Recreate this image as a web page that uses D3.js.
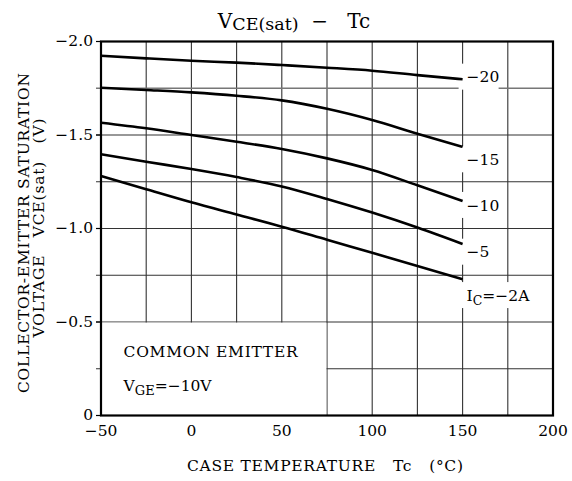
<!DOCTYPE html>
<html>
<head>
<meta charset="utf-8">
<script src="https://cdn.jsdelivr.net/npm/d3@7"></script>
<style>
  body { margin: 0; background: #fff; }
  text { font-family: "DejaVu Serif", serif; fill: #000; white-space: pre; }
</style>
</head>
<body>
<div id="my_dataviz"></div>
<script>
// case temperature (°C) where the curves were read
var temps = [-50, -25, 0, 25, 50, 75, 100, 125, 150];

// VCE(sat) in volts for each collector current
var ic20 = [-1.924, -1.910, -1.897, -1.887, -1.874, -1.860, -1.844, -1.820, -1.798];
var ic15 = [-1.753, -1.741, -1.728, -1.710, -1.685, -1.640, -1.580, -1.507, -1.437];
var ic10 = [-1.566, -1.536, -1.500, -1.464, -1.425, -1.375, -1.313, -1.231, -1.147];
var ic5  = [-1.397, -1.357, -1.318, -1.275, -1.225, -1.158, -1.085, -1.005, -0.917];
var ic2  = [-1.281, -1.210, -1.140, -1.075, -1.010, -0.940, -0.870, -0.800, -0.728];

var curveNames = ["-20", "-15", "-10", "-5", "-2"];
var curveLabels = ["\u221220", "\u221215", "\u221210", "\u22125", "IC"];

var xTicks = [-50, 0, 50, 100, 150, 200];
var yTicks = [0, -0.5, -1.0, -1.5, -2.0];
var yTickLabels = ["0", "\u22120.5", "\u22121.0", "\u22121.5", "\u22122.0"];

var margin = {top: 41.5, right: 19, bottom: 65.5, left: 101},
    width = 572 - margin.left - margin.right,
    height = 481 - margin.top - margin.bottom;

var svg = d3.select("#my_dataviz")
    .append("svg")
    .attr("width", 572)
    .attr("height", 481);

var g = svg.append("g")
    .attr("transform", "translate(" + margin.left + "," + margin.top + ")");

var x = d3.scaleLinear().domain([-50, 200]).range([0, width]);
var y = d3.scaleLinear().domain([0, -2]).range([height, 0]);

// grid, every 25 degC and every 0.25 V
var xGrid = d3.range(-25, 200, 25);
var yGrid = d3.range(-0.25, -2, -0.25);

g.selectAll("vgrid")
    .data(xGrid)
    .enter()
    .append("line")
    .attr("x1", function(d) { return x(d) })
    .attr("x2", function(d) { return x(d) })
    .attr("y1", 0)
    .attr("y2", height)
    .attr("stroke", "#333")
    .attr("stroke-width", 1.1);

g.selectAll("hgrid")
    .data(yGrid)
    .enter()
    .append("line")
    .attr("x1", -5)
    .attr("x2", width)
    .attr("y1", function(d) { return y(d) })
    .attr("y2", function(d) { return y(d) })
    .attr("stroke", function(d) { return d == -1.75 ? "#777" : "#333" })
    .attr("stroke-width", function(d) { return d == -1.75 ? 1.6 : 1.1 });

// outer ticks on the left
g.selectAll("yticks")
    .data(yTicks)
    .enter()
    .append("line")
    .attr("x1", -5)
    .attr("x2", 0)
    .attr("y1", function(d) { return y(d) })
    .attr("y2", function(d) { return y(d) })
    .attr("stroke", "#000")
    .attr("stroke-width", 1.2);

// blank area for the note box
g.append("rect")
    .attr("x", x(-50))
    .attr("y", y(-0.5) + 0.6)
    .attr("width", x(75) - x(-50) - 0.6)
    .attr("height", y(0) - y(-0.5))
    .attr("fill", "#fff");

// frame
g.append("rect")
    .attr("width", width)
    .attr("height", height)
    .attr("fill", "none")
    .attr("stroke", "#000")
    .attr("stroke-width", 2.2);

// tick labels
g.selectAll("xlab")
    .data(xTicks)
    .enter()
    .append("text")
    .attr("x", function(d) { return x(d) })
    .attr("y", height + 20.5)
    .attr("text-anchor", "middle")
    .style("font-size", "15.5px")
    .text(function(d) { return d < 0 ? "\u2212" + Math.abs(d) : d });

g.selectAll("ylab")
    .data(yTicks)
    .enter()
    .append("text")
    .attr("x", -8)
    .attr("y", function(d) { return y(d) })
    .attr("dy", "0.3em")
    .attr("text-anchor", "end")
    .style("font-size", "15.5px")
    .text(function(d, i) { return yTickLabels[i] });

// curve labels, white boxes break the grid behind them
var labelV = [-1.812, -1.37, -1.126, -0.876, -0.644];
var labelW = [40, 36, 36, 26, 84];

var labs = g.selectAll("clab")
    .data(curveNames)
    .enter()
    .append("g");

labs.append("rect")
    .attr("x", x(150) - 4)
    .attr("y", function(d, i) { return y(labelV[i]) - 13 })
    .attr("width", function(d, i) { return labelW[i] })
    .attr("height", 26)
    .attr("fill", "#fff");

var ltext = labs.append("text")
    .attr("x", x(150) + 4)
    .attr("y", function(d, i) { return y(labelV[i]) })
    .attr("dy", "0.36em")
    .style("font-size", "15.5px");

ltext.filter(function(d) { return d != "-2" })
    .text(function(d) { return curveLabels[curveNames.indexOf(d)] });

var icText = ltext.filter(function(d) { return d == "-2" });
icText.append("tspan").text("I");
icText.append("tspan").attr("dy", 4).style("font-size", "12.5px").text("C");
icText.append("tspan").attr("dy", -4).text("=\u22122A");

// curves
var series = [ic20, ic15, ic10, ic5, ic2];
var line = d3.line()
    .x(function(d, i) { return x(temps[i]) })
    .y(function(d) { return y(d) })
    .curve(d3.curveMonotoneX);

g.selectAll("curves")
    .data(series)
    .enter()
    .append("path")
    .attr("d", function(d) { return line(d) })
    .attr("fill", "none")
    .attr("stroke", "#000")
    .attr("stroke-width", 2.6);

// note inside the plot
g.append("text")
    .attr("x", x(-37.5))
    .attr("y", y(-0.34))
    .attr("dy", "0.35em")
    .style("font-size", "15.5px")
    .attr("textLength", 174)
    .text("COMMON EMITTER");

var vge = g.append("text")
    .attr("x", x(-37.5))
    .attr("y", y(-0.13))
    .style("font-size", "15.5px");
vge.append("tspan").text("V");
vge.append("tspan").attr("dy", 4).style("font-size", "13px").text("GE");
vge.append("tspan").attr("dy", -4).text("=\u221210V");

// title
var title = svg.append("text")
    .attr("x", 294)
    .attr("y", 28)
    .attr("text-anchor", "middle")
    .style("font-size", "20px");
title.append("tspan").text("V");
title.append("tspan").attr("dy", 2).style("font-size", "17.5px").text("CE(sat)");
title.append("tspan").attr("dy", -2).text("  \u2212   Tc");

// axis titles
svg.append("text")
    .attr("x", 325)
    .attr("y", 471)
    .attr("text-anchor", "middle")
    .style("font-size", "15.5px")
    .attr("textLength", 276)
    .text("CASE TEMPERATURE   Tc   (\u00b0C)");

svg.append("text")
    .attr("transform", "translate(29,233) rotate(-90)")
    .attr("text-anchor", "middle")
    .style("font-size", "15.5px")
    .attr("textLength", 320)
    .text("COLLECTOR-EMITTER SATURATION");

svg.append("text")
    .attr("transform", "translate(44,228) rotate(-90)")
    .attr("text-anchor", "middle")
    .style("font-size", "15.5px")
    .attr("textLength", 219)
    .text("VOLTAGE   VCE(sat)   (V)");
</script>
</body>
</html>
